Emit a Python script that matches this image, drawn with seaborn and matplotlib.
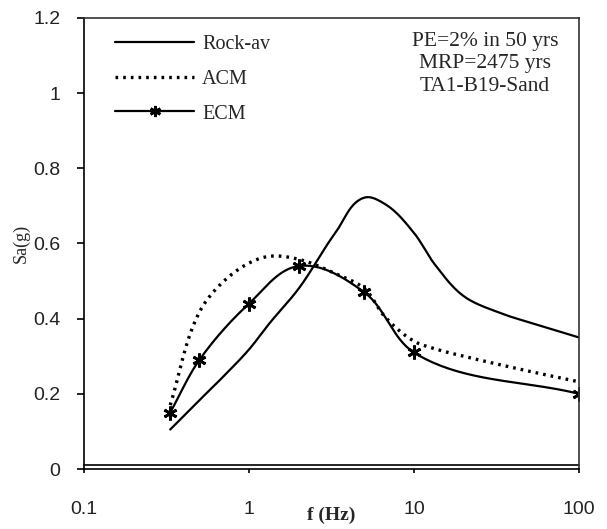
import numpy as np
import matplotlib
matplotlib.use("Agg")
import matplotlib.pyplot as plt
from matplotlib.transforms import ScaledTranslation
import seaborn as sns

# Spectral acceleration Sa(g) versus frequency f (Hz)
rock_f = [0.333, 0.5, 0.667, 1, 1.333, 2, 3.333, 5, 6.667, 10, 13.33, 20, 33.33, 50, 100]
rock_sa = [0.105, 0.183, 0.237, 0.318, 0.388, 0.48, 0.628, 0.722, 0.705, 0.628, 0.545, 0.46, 0.415, 0.39, 0.35]

acm_f = [0.333, 0.5, 0.667, 1, 1.333, 2, 3.333, 5, 6.667, 10, 13.33, 20, 50, 100]
acm_sa = [0.17, 0.417, 0.49, 0.548, 0.566, 0.558, 0.52, 0.48, 0.405, 0.34, 0.32, 0.30, 0.26, 0.232]

ecm_f = [0.333, 0.5, 1, 2, 5, 10, 100]
ecm_sa = [0.15, 0.29, 0.44, 0.54, 0.47, 0.31, 0.20]

x_ticks = [0.1, 1, 10, 100]
x_tick_labels = ["0.1", "1", "10", "100"]
y_ticks = [0, 0.2, 0.4, 0.6, 0.8, 1.0, 1.2]
y_tick_labels = ["0", "0.2", "0.4", "0.6", "0.8", "1", "1.2"]

legend_labels = ["Rock-av", "ACM", "ECM"]
note_lines = ["PE=2% in 50 yrs", "MRP=2475 yrs", "TA1-B19-Sand"]


def smooth_path(f, v, n=40):
    """Smoothed line through the points: cubic Bezier segments in
    (log10 f, Sa) screen proportions, tangent along the bisector of the
    neighbouring chords, handle length one third of each chord."""
    P = np.column_stack([np.log10(np.asarray(f, float)) * 165.0,
                         np.asarray(v, float) * 375.0])
    chords = np.diff(P, axis=0)
    lens = np.hypot(chords[:, 0], chords[:, 1])
    units = chords / lens[:, None]
    D = np.empty_like(P)
    D[0], D[-1] = units[0], units[-1]
    for i in range(1, len(P) - 1):
        s = units[i - 1] + units[i]
        D[i] = s / np.hypot(*s)
    t = np.linspace(0, 1, n)[:, None]
    out = []
    for i in range(len(P) - 1):
        b0, b3 = P[i], P[i + 1]
        b1 = b0 + D[i] * lens[i] / 3.0
        b2 = b3 - D[i + 1] * lens[i] / 3.0
        seg = ((1 - t) ** 3) * b0 + 3 * ((1 - t) ** 2) * t * b1 \
            + 3 * (1 - t) * t ** 2 * b2 + t ** 3 * b3
        out.append(seg if i == 0 else seg[1:])
    out = np.vstack(out)
    return 10 ** (out[:, 0] / 165.0), out[:, 1] / 375.0


sns.set_theme(style="ticks")
plt.rcParams["font.family"] = ["Liberation Serif", "DejaVu Serif"]

fig = plt.figure(figsize=(6.07, 5.29), dpi=100)
ax = fig.add_axes([84 / 607, 60 / 529, 495 / 607, 451 / 529])

rx, ry = smooth_path(rock_f, rock_sa)
axx, axy = smooth_path(acm_f, acm_sa)
ex, ey = smooth_path(ecm_f, ecm_sa)

sns.lineplot(x=rx, y=ry, ax=ax, sort=False, estimator=None, color="black",
             linewidth=1.6, label=legend_labels[0])
sns.lineplot(x=axx, y=axy, ax=ax, sort=False, estimator=None, color="black",
             linewidth=2.4, linestyle=(0, (0.8, 1.5)), label=legend_labels[1])
sns.lineplot(x=ex, y=ey, ax=ax, sort=False, estimator=None, color="black",
             linewidth=1.6, label="_nolegend_")
star = (6, 2, 0)
ax.plot(ecm_f, ecm_sa, linestyle="none", marker=star, markersize=10,
        markeredgewidth=2, color="black")
# legend proxy for ECM (line with star marker)
ax.plot([], [], color="black", linewidth=1.6, marker=star, markersize=8,
        markeredgewidth=2, label=legend_labels[2])

ax.set_xscale("log")
ax.set_xlim(0.1, 100)
ax.set_ylim(0, 1.2)
ax.set_xticks(x_ticks)
ax.set_xticklabels(x_tick_labels)
ax.set_yticks(y_ticks)
ax.set_yticklabels(y_tick_labels)
ax.minorticks_off()

for lab in ax.get_xticklabels() + ax.get_yticklabels():
    lab.set_fontfamily(["Liberation Sans", "DejaVu Sans"])
    lab.set_fontsize(14)

ax.tick_params(axis="x", direction="out", length=3, width=1.2, pad=20, colors="black",
               labelcolor="#222222")
ax.tick_params(axis="y", direction="out", length=5, width=1.2, pad=12, colors="black",
               labelcolor="#222222")

for s in ax.spines.values():
    s.set_visible(True)
    s.set_linewidth(1.2)
    s.set_color("#333333")
ax.spines["left"].set_color("black")
ax.spines["bottom"].set_color("black")

# second rule just above the bottom frame
off = ScaledTranslation(0, 4 / 100, fig.dpi_scale_trans)
ax.plot([0, 1], [0, 0], transform=ax.transAxes + off, color="black",
        linewidth=1.2, clip_on=False)

ax.set_xlabel("f (Hz)", fontsize=14, fontweight="bold")
ax.xaxis.set_label_coords(0.5, -(507 - 469) / 451)
ax.set_ylabel("Sa(g)", fontsize=13)
ax.yaxis.set_label_coords(-(84 - 30) / 495, 0.5)

leg = ax.legend(loc="upper left", bbox_to_anchor=(0.043, 0.985), frameon=False,
                fontsize=14.5, handlelength=3.9, handletextpad=0.4, labelspacing=0.78,
                borderpad=0.0)

ax.text(0.81, 0.899, "\n".join(note_lines), transform=ax.transAxes, ha="center",
        va="center", fontsize=15.5, linespacing=1.25, multialignment="center")

fig.savefig("out.png", dpi=100)
